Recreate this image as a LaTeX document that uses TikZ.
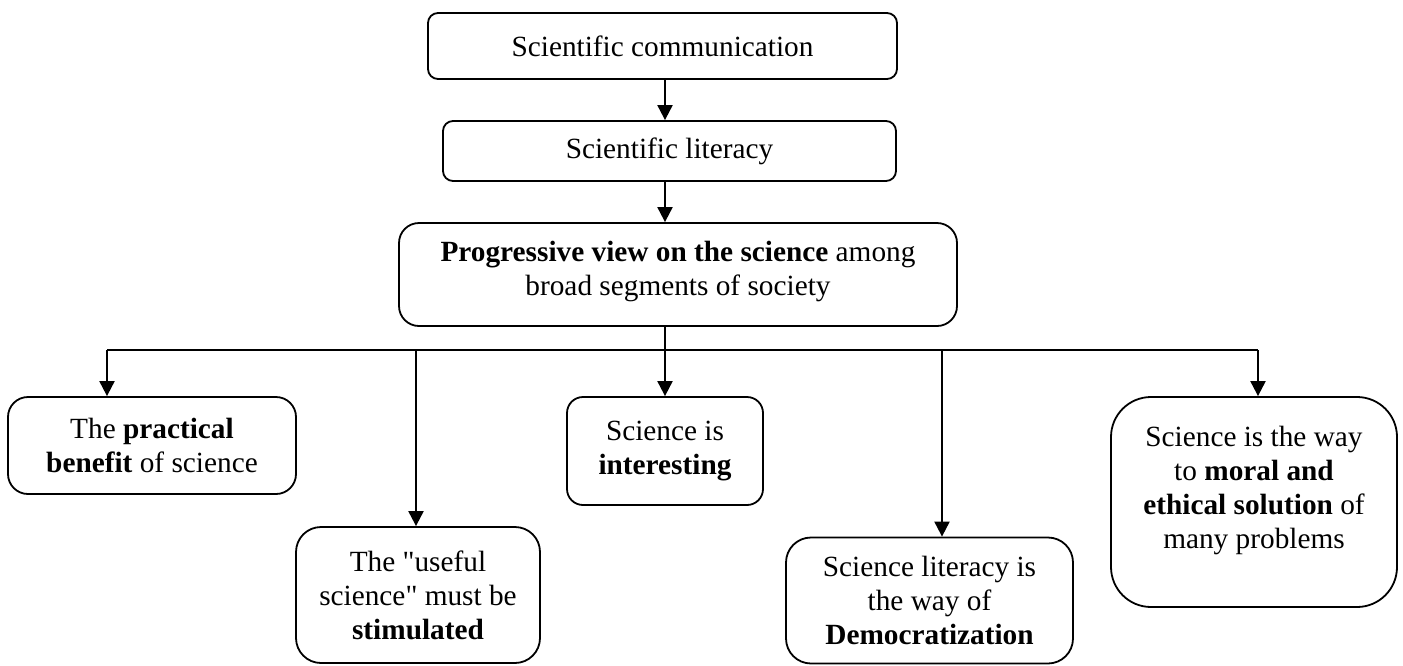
\documentclass[tikz,border=0pt]{standalone}
\usepackage{fontspec}
\setmainfont{Liberation Serif}[Ligatures=TeXOff]
\usetikzlibrary{arrows.meta}
\begin{document}
\begin{tikzpicture}[x=1pt,y=-1pt,
  box/.style={draw,line width=1.8pt,align=center,inner sep=0pt,
    font=\fontsize{29.3}{34}\selectfont},
  conn/.style={line width=2pt},
  arr/.style={conn,-{Triangle[length=15pt,width=15pt]}}]
\useasboundingbox (0,0) rectangle (1403,665);
\node[box,rounded corners=10pt,minimum width=469pt,minimum height=66pt] (comm) at (662.5,46) {Scientific communication};
\node[box,rounded corners=10pt,minimum width=453pt,minimum height=60pt] (lit) at (669.5,151) {Scientific literacy};
\node[box,rounded corners=20pt,minimum width=558pt,minimum height=103pt] (prog) at (678,274.5) {\textbf{Progressive view on the science} among\\broad segments of society\\[-22pt]};
\node[box,rounded corners=20pt,minimum width=288pt,minimum height=97pt] (benefit) at (152,445.5) {The \textbf{practical}\\\textbf{benefit} of science};
\node[box,rounded corners=25pt,minimum width=244pt,minimum height=136pt] (useful) at (418,595) {The "useful\\science" must be\\\textbf{stimulated}};
\node[box,rounded corners=16pt,minimum width=196pt,minimum height=108pt] (interest) at (665,451) {Science is\\\textbf{interesting}};
\node[box,rounded corners=25pt,minimum width=287pt,minimum height=126pt] (demo) at (929.5,600.5) {Science literacy is\\the way of\\\textbf{Democratization}};
\node[box,rounded corners=40pt,minimum width=286pt,minimum height=210pt] (moral) at (1254,502) {Science is the way\\to \textbf{moral and}\\\textbf{ethical solution} of\\many problems\\[-5pt]};
\coordinate (bus) at (665,350);
\coordinate (busL) at (107,350);
\coordinate (busR) at (1258,350);
\draw[arr] (comm.south -| 665,0) -- (lit.north -| 665,0);
\draw[arr] (lit.south -| 665,0) -- (prog.north -| 665,0);
\draw[conn] (prog.south -| 665,0) -- (bus);
\draw[conn] (busL) -- (busR);
\draw[arr] (busL) -- (benefit.north -| busL);
\draw[arr] (416,350) -- (useful.north -| 416,0);
\draw[arr] (bus) -- (interest.north);
\draw[arr] (942,350) -- (demo.north -| 942,0);
\draw[arr] (busR) -- (moral.north -| busR);
\end{tikzpicture}
\end{document}
